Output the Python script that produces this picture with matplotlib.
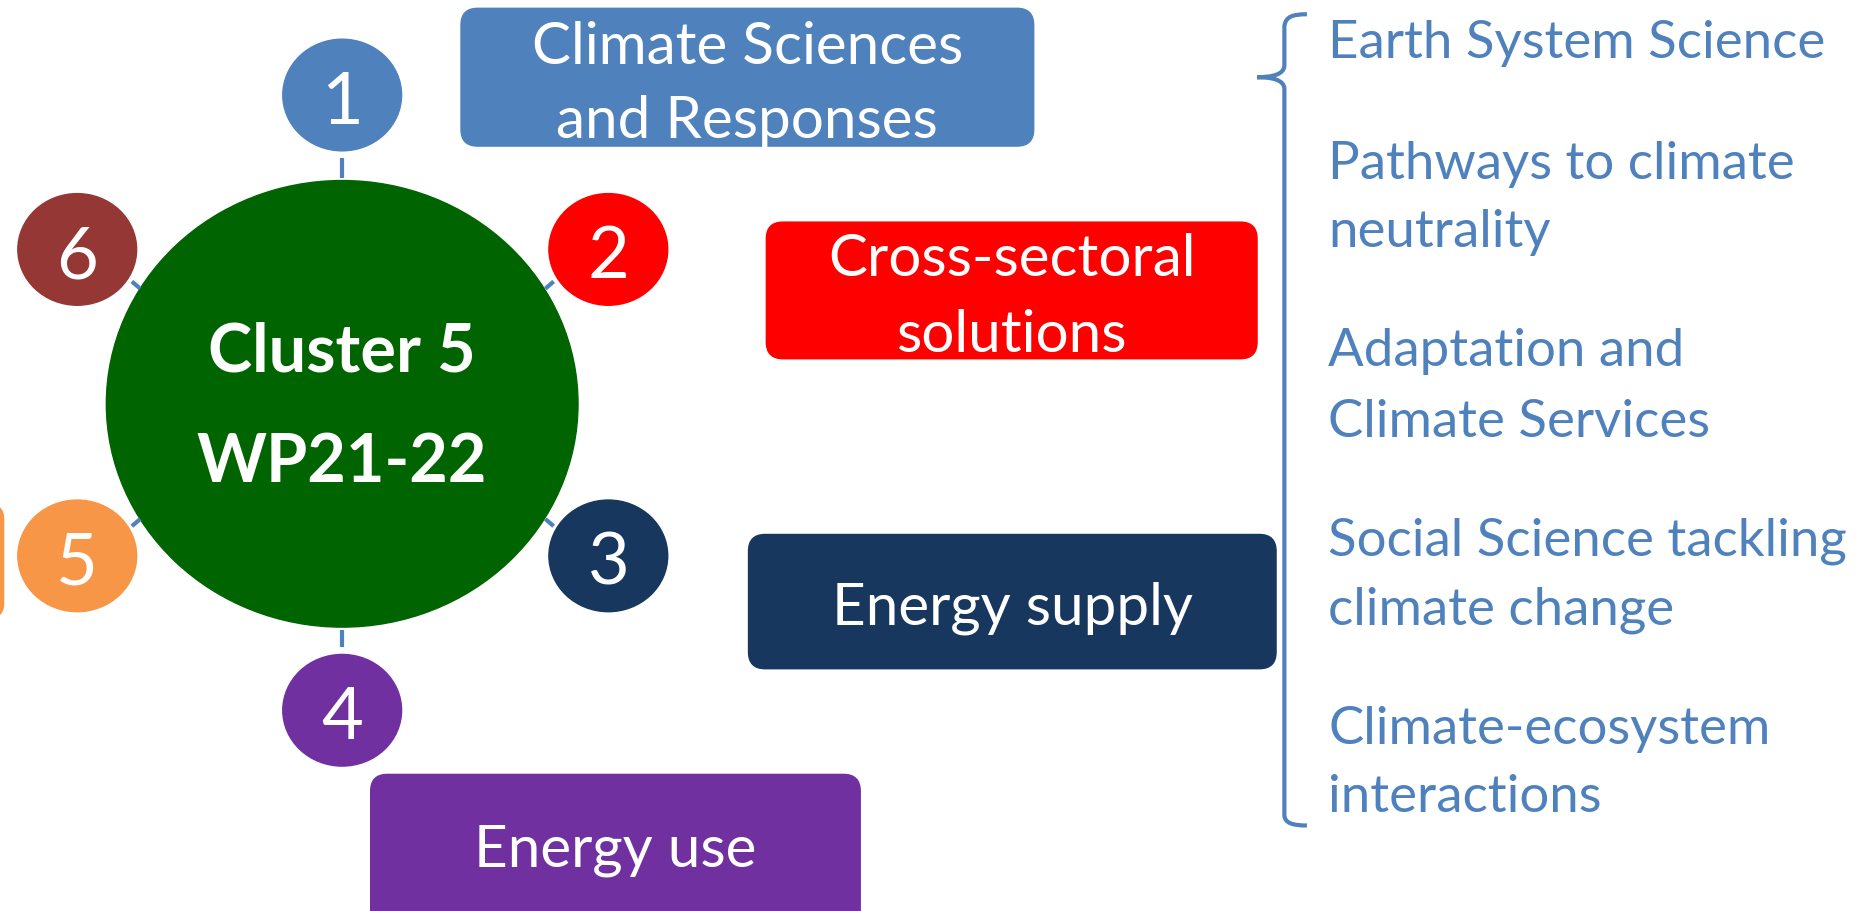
import matplotlib
matplotlib.use("Agg")
import matplotlib.pyplot as plt
from matplotlib.patches import Ellipse, FancyBboxPatch, PathPatch
from matplotlib.path import Path

# data
center_lines = ["Cluster 5", "WP21-22"]
node_labels = ["1", "2", "3", "4", "5", "6"]
box_labels = ["Climate Sciences\nand Responses", "Cross-sectoral\nsolutions",
              "Energy supply", "Energy use"]
topics = ["Earth System Science", "Pathways to climate\nneutrality",
          "Adaptation and\nClimate Services", "Social Science tackling\nclimate change",
          "Climate-ecosystem\ninteractions"]

# layout (px of the 1568x767 view)
node_xy = [(288, 80), (512, 210), (512, 468), (288, 598), (65, 468), (65, 210)]
node_col = ["#4F81BD", "#FF0000", "#17375E", "#7030A0", "#F79646", "#953735"]
box_xywh = [(388, 7, 482, 116), (645, 187, 413, 115), (630, 450, 444, 113), (312, 652, 412, 130)]
box_col = ["#4F81BD", "#FF0000", "#17375E", "#7030A0"]
box_text_y = [[36, 98], [214, 278], [508], [712]]
topic_y = [[33], [135, 192], [292, 352], [452, 510], [610, 668]]
blue = "#4F81BD"

plt.rcParams['font.family'] = ['Lato', 'DejaVu Sans']
fig = plt.figure(figsize=(18.63, 9.11), dpi=100)
ax = fig.add_axes([0, 0, 1, 1])
ax.set_xlim(0, 1568)
ax.set_ylim(767, 0)
ax.axis("off")

# connectors
segs = [((288, 133), (288, 150)), ((288, 530), (288, 545)),
        ((459, 243), (466, 237)), ((459, 437), (466, 443)),
        ((111, 237), (118, 243)), ((111, 443), (118, 437))]
for a, b in segs:
    ax.plot([a[0], b[0]], [a[1], b[1]], color=blue, lw=3, solid_capstyle="butt")

# big circle
ax.add_patch(Ellipse((288, 340), 397, 376, color="#006400"))
for line, y in zip(center_lines, [292, 385]):
    ax.text(288, y, line, color="white", fontsize=48, fontweight="bold",
            ha="center", va="center_baseline")

for (x, y), lab, c in zip(node_xy, node_labels, node_col):
    ax.add_patch(Ellipse((x, y), 100, 94, color=c))
    ax.text(x, y + 2, lab, color="white", fontsize=52, ha="center", va="center_baseline")

# partial orange box at left edge
ax.add_patch(FancyBboxPatch((-100, 425), 103, 95, boxstyle="round,pad=0,rounding_size=12",
                            color="#F79646"))

for (x, y, w, h), lab, c, tys in zip(box_xywh, box_labels, box_col, box_text_y):
    ax.add_patch(FancyBboxPatch((x, y), w, h, boxstyle="round,pad=0,rounding_size=14", color=c))
    for line, ty in zip(lab.split("\n"), tys):
        ax.text(x + w / 2, ty, line, color="white", fontsize=42, ha="center",
                va="center_baseline")

# brace
verts = [(1100, 12), (1088, 12), (1082, 14), (1081, 22),
         (1081, 55),
         (1081, 63), (1070, 65), (1058, 65),
         (1070, 65), (1081, 67), (1081, 75),
         (1081, 686),
         (1081, 693), (1088, 695), (1100, 695)]
codes = [Path.MOVETO, Path.CURVE4, Path.CURVE4, Path.CURVE4,
         Path.LINETO,
         Path.CURVE4, Path.CURVE4, Path.CURVE4,
         Path.CURVE4, Path.CURVE4, Path.CURVE4,
         Path.LINETO,
         Path.CURVE4, Path.CURVE4, Path.CURVE4]
ax.add_patch(PathPatch(Path(verts, codes), fill=False, edgecolor=blue, lw=3))

for t, ys in zip(topics, topic_y):
    for line, y in zip(t.split("\n"), ys):
        ax.text(1118, y, line, color=blue, fontsize=38, ha="left", va="center_baseline")

fig.savefig("out.png", dpi=100)
